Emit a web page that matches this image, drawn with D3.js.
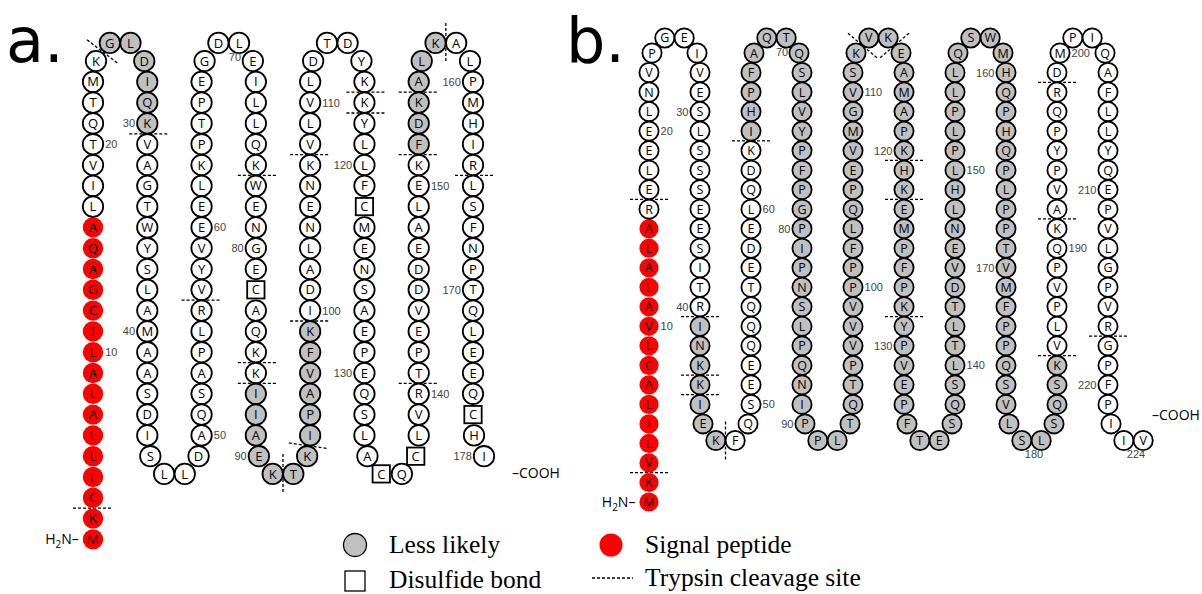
<!DOCTYPE html>
<html>
<head>
<meta charset="utf-8">
<script src="https://cdn.jsdelivr.net/npm/d3@7"></script>
<style>
  body { margin: 0; background: #fff; }
  svg text { font-family: "Open Sans", sans-serif; }
  .aa { font-size: 13px; fill: #000; }
  .num { font-size: 11px; fill: #444; font-family: "Liberation Sans", Arial, sans-serif; }
  .legend { font-family: "Liberation Serif", "Times New Roman", serif; font-size: 25.5px; fill: #000; }
  .panel { font-size: 62px; fill: #000; font-family: "DejaVu Sans", sans-serif !important; }
  .term { font-size: 14px; fill: #000; }
</style>
</head>
<body>
<svg id="chart" width="1202" height="594"></svg>
<script>
// ---- data: panel a ----
const seqA = ["MKCLLLALAL", "TCGAQALIVT", "QTMKGLDIQK", "VAGTWYSLAM", "AASDISLLDA",
              "QSAPLRVYVE", "ELKPTPEGDL", "EILLQKWENG", "ECAQKKIIAE", "KTKIPAVFKI",
              "DALNENKVLV", "LDTDYKKYLL", "FCMENSAEPE", "QSLACQCLVR", "TPEVDDEALE",
              "KFDKALKALP", "MHIRLSFNPT", "QLEEQCHI"].join("");
const signalA = [1, 16];               // residue range
const lessLikelyA = [[25, 30], [87, 99], [152, 157]];
const disulfideA = [82, 122, 135, 137, 176];
const trypsinA = [2, 24, 30, 56, 76, 85, 86, 91, 93, 99, 107, 116, 117, 140, 151, 154, 157, 164];
const numbersA = [10, 20, 30, 40, 50, 60, 70, 80, 90, 100, 110, 120, 130, 140, 150, 160, 170, 178];

// ---- data: panel b ----
const seqB = ["MKVLILACLV", "ALALARELEE", "LNVPGEIVES", "LSSSEESITR", "INKKIEKFQS",
              "EEQQQTEDEL", "QDKIHPFAQT", "QSLVYPFPGP", "IPNSLPQNIP", "PLTQTPVVVP",
              "PFLQPEVMGV", "SKVKEAMAPK", "HKEMPFPKYP", "VEPFTESQSL", "TLTDVENLHL",
              "PLPLLQSWMH", "QPHQPLPPTV", "MFPPQSVLSL", "SQSKVLPVPQ", "KAVPYPQRDM",
              "PIQAFLLYQE", "PVLGPVRGPF", "PIIV"].join("");
const signalB = [1, 15];
const lessLikelyB = [[41, 47], [64, 184]];
const disulfideB = [];
const trypsinB = [2, 16, 40, 43, 44, 47, 63, 112, 114, 120, 122, 128, 184, 191, 198, 217];
const numbersB = [10, 20, 30, 40, 50, 60, 70, 80, 90, 100, 110, 120, 130, 140, 150, 160, 170, 180, 190, 200, 210, 220, 224];

const legendItems = ["Less likely", "Disulfide bond", "Signal peptide", "Trypsin cleavage site"];

const svg = d3.select("#chart");

// snake layout: first column goes up, then 2-residue turns and columns of colLen
function snake(n, firstLen, colLen) {
  const pos = [];
  for (let k = 0; k < firstLen; k++) pos.push({c: 0, row: firstLen - 1 - k, kind: "col"});
  let c = 0, top = true;
  while (pos.length < n) {
    for (let k = 0; k < 2 && pos.length < n; k++)
      pos.push({c: c + (k ? 0.69 : 0.31), row: top ? "top" : "bot", kind: "turn"});
    c++;
    for (let k = 0; k < colLen && pos.length < n; k++)
      pos.push({c: c, row: top ? k : colLen - 1 - k, kind: "col", col: c});
    top = !top;
  }
  return pos;
}

function drawPanel(cfg) {
  const {seq, signal, less, disulfide, trypsin, numbers, x, y, topRow, botRow, r, cutLen, tailDx} = cfg;
  const pos = snake(seq.length, 24, 20);
  pos.forEach((p, i) => { if (p.col === undefined) p.col = Math.round(p.c); });

  const nodes = pos.map((p, i) => {
    let row = p.row === "top" ? topRow : p.row === "bot" ? botRow : p.row;
    let cx = x(p.c);
    // column ends lean a little toward the adjacent turn
    if (p.kind === "col") {
      const prev = pos[i - 1], next = pos[i + 1];
      if (next && next.kind === "turn") cx += next.c > p.c ? 3 : -3;
      if (prev && prev.kind === "turn") cx += prev.c > p.c ? 3 : -3;
    }
    return {i: i + 1, aa: seq[i], cx, cy: y(row), kind: p.kind, col: p.col};
  });
  // C-terminal tail drifts right
  if (tailDx) {
    const n = nodes.length;
    nodes[n - 1].cx += tailDx[1];
    nodes[n - 2].cx += tailDx[0];
  }

  const g = svg.append("g");
  const isLess = i => less.some(([a, b]) => i >= a && i <= b);
  const isSig = i => i >= signal[0] && i <= signal[1];
  const isSS = i => disulfide.includes(i);

  // trypsin cleavage marks, perpendicular to the backbone between residues k and k+1
  g.selectAll("line.cut").data(trypsin).join("line")
    .attr("class", "cut")
    .each(function(k) {
      const a = nodes[k - 1], b = nodes[k];
      const mx = (a.cx + b.cx) / 2, my = (a.cy + b.cy) / 2;
      let dx = b.cx - a.cx, dy = b.cy - a.cy;
      const len = Math.hypot(dx, dy);
      const nx = -dy / len, ny = dx / len;
      d3.select(this)
        .attr("x1", mx - nx * cutLen / 2).attr("y1", my - ny * cutLen / 2)
        .attr("x2", mx + nx * cutLen / 2).attr("y2", my + ny * cutLen / 2);
    })
    .attr("stroke", "#000").attr("stroke-width", 1.3).attr("stroke-dasharray", "3,2");

  const res = g.selectAll("g.res").data(nodes).join("g")
    .attr("class", "res")
    .attr("transform", d => `translate(${d.cx},${d.cy})`);

  res.filter(d => !isSS(d.i)).append("circle")
    .attr("r", r)
    .attr("fill", d => isSig(d.i) ? "#ff0000" : isLess(d.i) ? "#c0c0c0" : "#fff")
    .attr("stroke", d => isSig(d.i) ? "none" : "#000")
    .attr("stroke-width", 1.8);

  res.filter(d => isSS(d.i)).append("rect")
    .attr("x", -r * 0.85).attr("y", -r * 0.85)
    .attr("width", r * 1.7).attr("height", r * 1.7)
    .attr("fill", "#fff").attr("stroke", "#000").attr("stroke-width", 1.8);

  res.append("text")
    .attr("class", "aa")
    .attr("text-anchor", "middle")
    .attr("dy", "0.36em")
    .style("font-size", cfg.font + "px")
    .text(d => d.aa);

  // residue numbers
  g.selectAll("text.num").data(numbers.map(k => nodes[k - 1])).join("text")
    .attr("class", "num")
    .attr("x", d => d.kind === "turn" ? d.cx + 2 : d.col % 2 === 0 ? d.cx + r + 2 : d.cx - r - 2)
    .attr("y", d => d.kind === "turn" ? d.cy + r + 8 : d.cy + 4)
    .attr("text-anchor", d => d.kind === "turn" ? "end" : d.col % 2 === 0 ? "start" : "end")
    .text(d => d.i);

  // termini
  const first = nodes[0];
  const nt = g.append("text").attr("class", "term")
    .attr("x", first.cx - r - 4).attr("y", first.cy + 5)
    .attr("text-anchor", "end");
  nt.append("tspan").text("H");
  nt.append("tspan").attr("dy", 4).style("font-size", "10px").text("2");
  nt.append("tspan").attr("dy", -4).text("N–");

  g.append("text").attr("class", "term")
    .attr("x", cfg.cooh[0]).attr("y", cfg.cooh[1])
    .text("–COOH");

  g.append("text").attr("class", "panel")
    .attr("x", cfg.label[0]).attr("y", cfg.label[1])
    .text(cfg.name);
}

drawPanel({
  name: "a.", label: [6, 62], cooh: [512, 478],
  seq: seqA, signal: signalA, less: lessLikelyA, disulfide: disulfideA,
  trypsin: trypsinA, numbers: numbersA,
  x: d3.scaleLinear().domain([0, 7]).range([93, 473]),
  y: d3.scaleLinear().domain([0, 23]).range([61, 539.4]),
  topRow: -0.87, botRow: 19.85, r: 10.2, font: 13, cutLen: 40, tailDx: [1, 11]
});

drawPanel({
  name: "b.", label: [566, 62], cooh: [1152, 420],
  seq: seqB, signal: signalB, less: lessLikelyB, disulfide: disulfideB,
  trypsin: trypsinB, numbers: numbersB,
  x: d3.scaleLinear().domain([0, 9]).range([649, 1108]),
  y: d3.scaleLinear().domain([0, 23]).range([53, 502]),
  topRow: -0.77, botRow: 19.85, r: 9.6, font: 12.5, cutLen: 38
});

// legend
const lg = svg.append("g");
lg.append("circle").attr("cx", 355).attr("cy", 545).attr("r", 11.5)
  .attr("fill", "#c0c0c0").attr("stroke", "#000").attr("stroke-width", 1.3);
lg.append("rect").attr("x", 345).attr("y", 571).attr("width", 20).attr("height", 20)
  .attr("fill", "#fff").attr("stroke", "#000").attr("stroke-width", 1.3);
lg.append("circle").attr("cx", 611).attr("cy", 545).attr("r", 11.5).attr("fill", "#ff0000");
lg.append("line").attr("x1", 592).attr("x2", 633).attr("y1", 578).attr("y2", 578)
  .attr("stroke", "#000").attr("stroke-width", 1.3).attr("stroke-dasharray", "3,2");
const legendPos = [[389, 553], [389, 588], [645, 553], [645, 586]];
lg.selectAll("text").data(legendItems).join("text")
  .attr("class", "legend")
  .attr("x", (d, i) => legendPos[i][0]).attr("y", (d, i) => legendPos[i][1])
  .text(d => d);
</script>
</body>
</html>
